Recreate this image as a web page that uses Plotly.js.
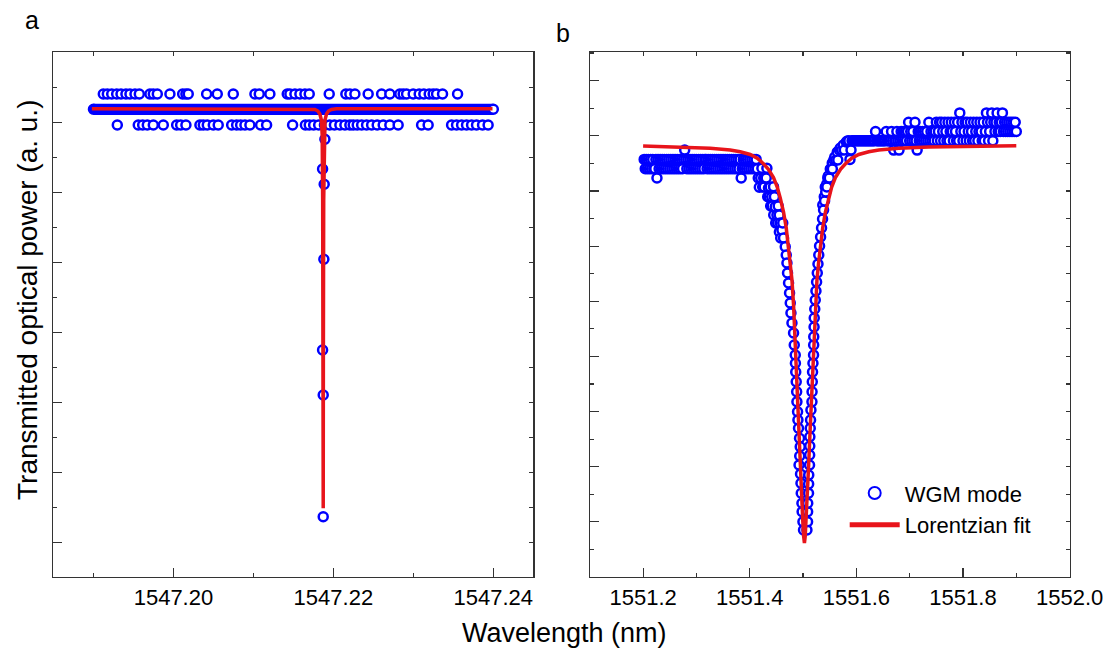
<!DOCTYPE html>
<html><head><meta charset="utf-8">
<script src="https://cdn.plot.ly/plotly-3.0.1.min.js"></script>
<style>html,body{margin:0;padding:0;background:#fff}#chart{width:1111px;height:655px}</style>
</head><body><div id="chart"></div>
<script>
// ---------- Panel a : WGM mode near 1547.22 nm ----------
const aBaseWave = [1547.1900, 1547.2400];          // dense baseline samples (solid band)
const aBasePower = [467.7, 467.7];
const aLevelHigh = 483.0;                           // quantised noise level above baseline
const aLevelLow = 452.0;                            // quantised noise level below baseline
const aUpperWave = [1547.19123, 1547.19173, 1547.19228, 1547.19290, 1547.19344, 1547.19406, 1547.19456, 1547.19519, 1547.19573, 1547.19706, 1547.19748, 1547.19798, 1547.19956, 1547.20115, 1547.20156, 1547.20185, 1547.20415, 1547.20548, 1547.20748, 1547.21019, 1547.21073, 1547.21206, 1547.21423, 1547.21456, 1547.21519, 1547.21581, 1547.21644, 1547.21698, 1547.21948, 1547.22156, 1547.22206, 1547.22269, 1547.22435, 1547.22603, 1547.22706, 1547.22831, 1547.22873, 1547.22915, 1547.22998, 1547.23073, 1547.23131, 1547.23198, 1547.23248, 1547.23290, 1547.23365, 1547.23553];
const aLowerWave = [1547.19298, 1547.19560, 1547.19615, 1547.19673, 1547.19748, 1547.19873, 1547.20040, 1547.20090, 1547.20156, 1547.20331, 1547.20373, 1547.20423, 1547.20498, 1547.20560, 1547.20728, 1547.20790, 1547.20840, 1547.20894, 1547.20956, 1547.21090, 1547.21165, 1547.21490, 1547.21650, 1547.21698, 1547.21753, 1547.21816, 1547.21888, 1547.21953, 1547.22013, 1547.22081, 1547.22144, 1547.22206, 1547.22248, 1547.22298, 1547.22353, 1547.22415, 1547.22478, 1547.22548, 1547.22623, 1547.22706, 1547.22810, 1547.23103, 1547.23185, 1547.23478, 1547.23540, 1547.23603, 1547.23665, 1547.23728, 1547.23790, 1547.23865, 1547.23935];
const aDipWave = [1547.21894, 1547.21865, 1547.21885, 1547.21881, 1547.21865, 1547.21873, 1547.21873];
const aDipPower = [437.7, 408.0, 392.7, 317.7, 227.0, 182.0, 60.3];
const aFitWave = [1547.1898, 1547.21706, 1547.21769, 1547.21806, 1547.21831, 1547.21850, 1547.21860, 1547.21866, 1547.21870, 1547.21873, 1547.21875, 1547.21879, 1547.21885, 1547.21895, 1547.21914, 1547.21939, 1547.21976, 1547.22039, 1547.2399];
const aFitPower = [468.3, 468.2, 467.5, 466, 463, 457, 442, 377, 227, 68.7, 227, 377, 442, 457, 463, 466, 467.5, 468.2, 468.3];

// ---------- Panel b : WGM mode near 1551.5 nm ----------
const bLevels = [389.7, 399.0, 408.3, 417.6, 426.9, 436.2, 445.5, 454.8, 464.1]; // quantised detector levels
const bStep = 0.002;                                 // scan step (nm) on the flat parts
const bLeftStart = 1551.202;
const bLeftCodes = "3232323232" + "2313232323" + "2323232323" + "2323232343" + "2323232323" +
                   "2323232332" + "3232323232" + "3232323232" + "3232323232" + "3123232323" + "232323210";
const bRightStart = 1551.586;
const bRightCodes = "5345555555" + "5555555555" + "5555565555" + "5555565555" + "6545565456" +
                    "5656567565" + "6575465656" + "5656575656" + "5675675765" + "7657567657" +
                    "6575867567" + "5765765756" + "7567657568" + "7567857678" + "6767867676" + "76767676";
const bLeftWallWave = [1551.4206, 1551.4228, 1551.4243, 1551.4262, 1551.4271, 1551.4290, 1551.4309, 1551.4322, 1551.4337, 1551.4352, 1551.4365, 1551.4384, 1551.4393, 1551.4412, 1551.4422, 1551.4446, 1551.4450, 1551.4463, 1551.4478, 1551.4487, 1551.4510, 1551.4525, 1551.4534, 1551.4553, 1551.4556, 1551.4572, 1551.4581, 1551.4604, 1551.4619, 1551.4634, 1551.4666, 1551.4685, 1551.4698, 1551.4709, 1551.4728, 1551.4747, 1551.4760, 1551.4773, 1551.4792, 1551.4822, 1551.4835, 1551.4854, 1551.4857, 1551.4863, 1551.4872, 1551.4880, 1551.4885, 1551.4897, 1551.4904, 1551.4915, 1551.4934, 1551.4947, 1551.4938, 1551.4925, 1551.4953, 1551.4961, 1551.4966, 1551.4979, 1551.4983, 1551.4998, 1551.5009];
const bLeftWallPower = [399, 408.7, 390, 399, 390, 399, 399, 408.7, 380.3, 389, 380.3, 390, 371, 380.3, 371, 390.3, 362, 380.3, 370.3, 354, 362, 354, 371, 362, 345, 354, 339, 347, 354, 339, 330.3, 322, 314, 304, 294, 284, 274, 264, 254, 244, 232, 222, 213.7, 205, 195.3, 185.3, 175.3, 165.3, 157, 148.7, 138.7, 130.3, 121, 112, 103, 93.7, 83.7, 73.7, 65.3, 55.3, 47];
const bRightWallWave = [1551.5073, 1551.5085, 1551.5086, 1551.5088, 1551.5103, 1551.5105, 1551.5107, 1551.5122, 1551.5124, 1551.5126, 1551.5128, 1551.5135, 1551.5141, 1551.5148, 1551.5167, 1551.5169, 1551.5173, 1551.5178, 1551.5186, 1551.5197, 1551.5199, 1551.5201, 1551.5207, 1551.5210, 1551.5220, 1551.5229, 1551.5242, 1551.5254, 1551.5267, 1551.5280, 1551.5295, 1551.5310, 1551.5329, 1551.5347, 1551.5366, 1551.5370, 1551.5385, 1551.5398, 1551.5404, 1551.5417, 1551.5426, 1551.5445, 1551.5447, 1551.5464, 1551.5473, 1551.5492, 1551.5511, 1551.5520, 1551.5548, 1551.5550, 1551.5577, 1551.5595, 1551.5614, 1551.5642, 1551.5652, 1551.5680, 1551.5699, 1551.5727, 1551.5755, 1551.5774, 1551.5811, 1551.5830];
const bRightWallPower = [47, 55.3, 65.3, 73.7, 83.7, 93, 102, 112, 122, 131, 140.3, 148.7, 157, 167, 175.3, 185.3, 195.3, 205, 213.7, 222, 232, 240.3, 250, 259, 268, 277, 286, 295, 304, 313, 322, 331, 340, 349, 358, 372, 367, 380.3, 376, 390, 385, 393, 390, 399, 401, 399, 408, 408, 414, 408, 417, 420, 417, 425, 417, 427, 429, 427, 432, 427, 435, 436];
const bFitWave = [1551.2000, 1551.2694, 1551.3257, 1551.3633, 1551.3821, 1551.4008, 1551.4140, 1551.4253, 1551.4347, 1551.4446, 1551.4516, 1551.4572, 1551.4634, 1551.4685, 1551.4728, 1551.4760, 1551.4792, 1551.4822, 1551.4844, 1551.4863, 1551.4891, 1551.4919, 1551.4947, 1551.4976, 1551.4994, 1551.5011, 1551.5026, 1551.5041, 1551.5058, 1551.5077, 1551.5105, 1551.5133, 1551.5162, 1551.5190, 1551.5209, 1551.5231, 1551.5261, 1551.5293, 1551.5325, 1551.5368, 1551.5419, 1551.5481, 1551.5537, 1551.5607, 1551.5706, 1551.5800, 1551.5913, 1551.6044, 1551.6232, 1551.6420, 1551.6795, 1551.7359, 1551.8140, 1551.9000];
const bFitPower = [431, 430, 428.7, 427, 425.3, 422.5, 418.7, 413.5, 408, 399.5, 390, 379, 365, 349, 330.3, 315, 297, 272, 242, 217, 182, 147, 112, 77, 57, 41, 34, 41, 57, 77, 112, 147, 182, 217, 242, 272, 297, 315, 330.3, 349, 365, 379, 390, 399.5, 408, 413.5, 418.7, 422.5, 425.3, 427, 428.7, 430, 430.8, 431.3];

// ---------- build ----------
function decode(start, step, codes, levels) {
  const x = [], y = [];
  for (let i = 0; i < codes.length; i++) { x.push(+(start + i * step).toFixed(4)); y.push(levels[+codes[i]]); }
  return {x, y};
}
const BLUE = '#0000ff', RED = '#e8141b', AX = '#333333';
const FONT = '"Liberation Sans", Arial, Helvetica, sans-serif';
const openMarker = {symbol: 'circle', size: 9, color: '#ffffff', line: {color: BLUE, width: 2.5}};

const aPtsX = aUpperWave.concat(aLowerWave, aDipWave);
const aPtsY = aUpperWave.map(() => aLevelHigh).concat(aLowerWave.map(() => aLevelLow), aDipPower);

const bL = decode(bLeftStart, bStep, bLeftCodes, bLevels);
const bR = decode(bRightStart, bStep, bRightCodes, bLevels);
const bX = bL.x.concat(bLeftWallWave, bRightWallWave, bR.x);
const bY = bL.y.concat(bLeftWallPower, bRightWallPower, bR.y);

const traces = [
  {x: aBaseWave, y: aBasePower, xaxis: 'x', yaxis: 'y', mode: 'lines+markers', showlegend: false, hoverinfo: 'skip',
   line: {color: BLUE, width: 11.3}, marker: {symbol: 'circle', size: 9, color: [BLUE, '#ffffff'], line: {color: BLUE, width: 2.5}}},
  {x: aPtsX, y: aPtsY, xaxis: 'x', yaxis: 'y', mode: 'markers', showlegend: false, marker: openMarker},
  {x: aFitWave, y: aFitPower, xaxis: 'x', yaxis: 'y', mode: 'lines', showlegend: false, line: {color: RED, width: 3.5}},
  {x: bX, y: bY, xaxis: 'x2', yaxis: 'y2', mode: 'markers', name: 'WGM mode', marker: openMarker},
  {x: bFitWave, y: bFitPower, xaxis: 'x2', yaxis: 'y2', mode: 'lines', name: 'Lorentzian fit', line: {color: RED, width: 3.5}},
  {x: [], y: [], xaxis: 'x3', yaxis: 'y', showlegend: false},
  {x: [], y: [], xaxis: 'x', yaxis: 'y3', showlegend: false},
  {x: [], y: [], xaxis: 'x4', yaxis: 'y2', showlegend: false},
  {x: [], y: [], xaxis: 'x2', yaxis: 'y4', showlegend: false}
];

const base = {showgrid: false, zeroline: false, showline: true, linecolor: AX, linewidth: 1.2, mirror: true,
  ticks: 'inside', tickcolor: AX, tickwidth: 1.2, ticklen: 9, tickfont: {size: 22, color: '#000', family: FONT}};
const minorTick = {ticks: 'inside', ticklen: 4, tickcolor: AX, tickwidth: 1.2};
const mirrorAx = {showgrid: false, zeroline: false, showline: false, ticks: 'inside', ticklen: 4, tickcolor: AX, tickwidth: 1.2, showticklabels: false};
const yDom = [0.11908, 0.92061];

const layout = {
  width: 1111, height: 655, margin: {l: 0, r: 0, t: 0, b: 0},
  paper_bgcolor: '#ffffff', plot_bgcolor: '#ffffff',
  font: {family: FONT, color: '#000'},
  xaxis: Object.assign({}, base, {domain: [0.04815, 0.48002], range: [1547.185, 1547.245], tick0: 1547.20, dtick: 0.02, tickformat: '.2f', anchor: 'y',
    minor: Object.assign({dtick: 0.01, tick0: 1547.19}, minorTick)}),
  yaxis: Object.assign({}, base, {domain: yDom, range: [0, 525], tick0: 34.7, dtick: 70, showticklabels: false, anchor: 'x',
    minor: Object.assign({dtick: 35, tick0: 34.7}, minorTick)}),
  xaxis2: Object.assign({}, base, {domain: [0.53087, 0.96274], range: [1551.1, 1552.0], tick0: 1551.0, dtick: 0.2, tickformat: '.1f', anchor: 'y2',
    minor: Object.assign({dtick: 0.1, tick0: 1551.1}, minorTick)}),
  yaxis2: Object.assign({}, base, {domain: yDom, range: [0, 525], tick0: 0, dtick: 55.15, showticklabels: false, anchor: 'x2',
    minor: Object.assign({dtick: 27.575, tick0: 0}, minorTick)}),
  xaxis3: Object.assign({}, mirrorAx, {overlaying: 'x', side: 'top', anchor: 'y', range: [1547.185, 1547.245], tick0: 1547.19, dtick: 0.01}),
  yaxis3: Object.assign({}, mirrorAx, {overlaying: 'y', side: 'right', anchor: 'x', range: [0, 525], tick0: -0.3, dtick: 35}),
  xaxis4: Object.assign({}, mirrorAx, {overlaying: 'x2', side: 'top', anchor: 'y2', range: [1551.1, 1552.0], tick0: 1551.1, dtick: 0.1}),
  yaxis4: Object.assign({}, mirrorAx, {overlaying: 'y2', side: 'right', anchor: 'x2', range: [0, 525], tick0: 0, dtick: 27.575}),
  showlegend: true,
  legend: {x: 0.7603, y: 0.279, xanchor: 'left', yanchor: 'top', font: {size: 22, family: FONT, color: '#000'},
    bgcolor: 'rgba(0,0,0,0)', borderwidth: 0, itemsizing: 'constant', itemwidth: 50, tracegroupgap: 0},
  annotations: [
    {text: 'a', xref: 'paper', yref: 'paper', x: 0.0288, y: 0.9695, showarrow: false, xanchor: 'center', yanchor: 'middle', font: {size: 25}},
    {text: 'b', xref: 'paper', yref: 'paper', x: 0.5072, y: 0.9496, showarrow: false, xanchor: 'center', yanchor: 'middle', font: {size: 25}},
    {text: 'Transmitted optical power (a. u.)', xref: 'paper', yref: 'paper', x: 0.0252, y: 0.542, textangle: -90, showarrow: false, xanchor: 'center', yanchor: 'middle', font: {size: 28}},
    {text: 'Wavelength (nm)', xref: 'paper', yref: 'paper', x: 0.5077, y: 0.0336, showarrow: false, xanchor: 'center', yanchor: 'middle', font: {size: 27}}
  ]
};
Plotly.newPlot('chart', traces, layout, {staticPlot: true, displayModeBar: false});
</script>
</body></html>
